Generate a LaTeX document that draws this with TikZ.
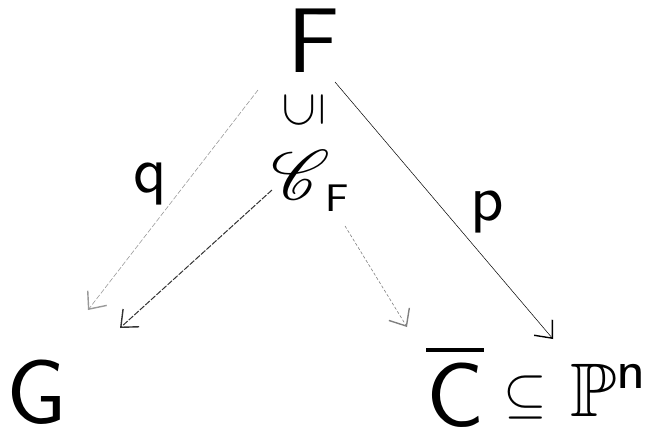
\documentclass[tikz,border=0pt]{standalone}
\usepackage{amsmath}
\usepackage{amssymb}
\usepackage{mathrsfs}
\usepackage{graphicx}
\usetikzlibrary{arrows.meta}
\newcommand\msans[1]{\text{\sffamily #1}}
\begin{document}
\begin{tikzpicture}[x=1pt,y=-1pt,
  lbl/.style={inner sep=0pt,font=\sffamily},
  barb/.style={-{Straight Barb[length=14pt,width=24pt,line width=1.4pt]}},
  faint/.style={barb,draw=black!40,line width=0.6pt,dash pattern=on 5pt off 2pt},
  dark/.style={barb,draw=black!80,line width=1pt,dash pattern=on 6pt off 1.5pt},
  dotty/.style={barb,draw=black!50,line width=0.6pt,dash pattern=on 3pt off 2pt},
  thin/.style={barb,draw=black,line width=0.5pt}]
\useasboundingbox (0,0) rectangle (647,432);
% nodes
\node[lbl,scale=9.2] (F) at (314,41) {F};
\node[lbl,scale=5] (sub) at (304,110) {\rotatebox{90}{$\subseteq$}};
\node[lbl,scale=7] (CF) at (310,181) {$\mathscr{C}$\kern-0.6pt\raisebox{-1.6pt}{\fontsize{5.5}{6}\selectfont\sffamily F}};
\node[lbl,scale=6.5] (q) at (150,184) {q};
\node[lbl,scale=6.5] (p) at (487,212) {p};
\node[lbl,scale=9] (G) at (37,392) {G};
\node[lbl,scale=9] (C) at (455,386) {$\overline{\msans{C}}$};
\node[lbl,scale=5.6] (incl) at (525,397) {$\subseteq$};
\node[lbl,scale=7.6] (P) at (610,390) {$\mathbb{P}^{\msans{n}}$};
% endpoints
\coordinate (qs) at (258,90);
\coordinate (qe) at (88,310);
\coordinate (ls) at (272,190);
\coordinate (le) at (120,328);
\coordinate (rs) at (345,226);
\coordinate (re) at (407,327);
\coordinate (ps) at (335,82);
\coordinate (pe) at (553,339);
% connectors
\draw[faint] (qs) -- (qe);
\draw[dark] (ls) -- (le);
\draw[dotty] (rs) -- (re);
\draw[thin] (ps) -- (pe);
\end{tikzpicture}
\end{document}
